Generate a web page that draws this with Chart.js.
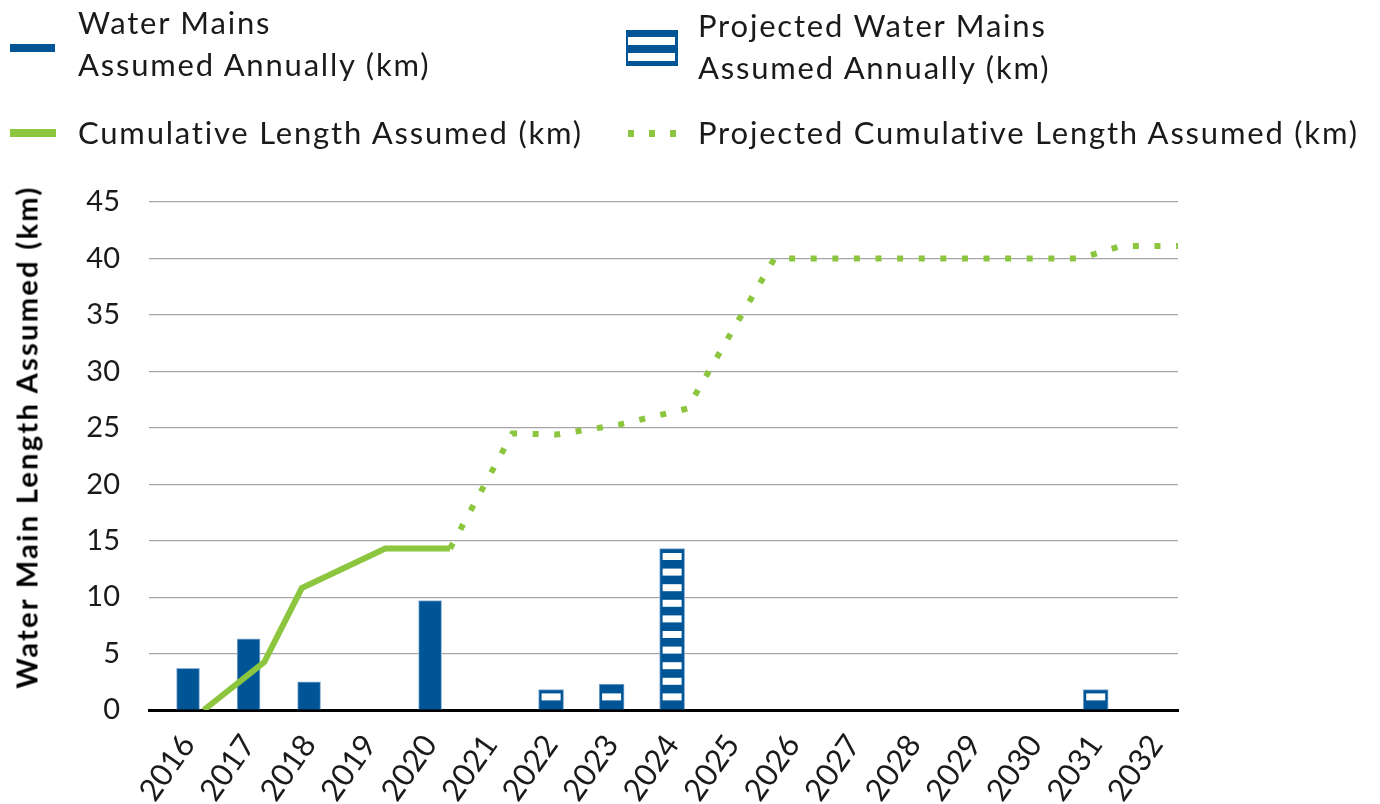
<!DOCTYPE html>
<html>
<head>
<meta charset="utf-8">
<script src="https://cdn.jsdelivr.net/npm/chart.js@4.4.1/dist/chart.umd.min.js"></script>
<style>
  html, body { margin: 0; padding: 0; background: #fff; overflow: hidden; }
  body { width: 1380px; height: 804px; position: relative; font-family: Lato, sans-serif; color: #1a1a1a; }
  #wrap { position: absolute; left: 0; top: 0; width: 1380px; height: 804px; }
  .lg-text { position: absolute; font-size: 31px; line-height: 42px; letter-spacing: 1.8px; white-space: nowrap; }
  .mk { position: absolute; }
  #titulo-y { position: absolute; left: 26px; top: 437px; transform: translate(-50%, -50%) rotate(-90deg);
              font-size: 29px; font-weight: bold; letter-spacing: 2.3px; white-space: nowrap; color: #000; }
</style>
</head>
<body>
<div id="wrap"><canvas id="grafico"></canvas></div>

<!-- legenda -->
<div class="mk" style="left:10px;top:44px;width:45px;height:8px;background:#005596"></div>
<div class="lg-text" style="left:78px;top:1px">Water Mains<br>Assumed Annually (km)</div>

<div class="mk" style="left:626px;top:30px;width:52px;height:36px;background:#005596"></div>
<div class="mk" style="left:628px;top:37px;width:47px;height:8px;background:#fff"></div>
<div class="mk" style="left:628px;top:53px;width:47px;height:8px;background:#fff"></div>
<div class="lg-text" style="left:698px;top:4px">Projected Water Mains<br>Assumed Annually (km)</div>

<div class="mk" style="left:10px;top:129px;width:46px;height:8px;background:#8cc63f"></div>
<div class="lg-text" style="left:78px;top:111px">Cumulative Length Assumed (km)</div>

<div class="mk" style="left:628px;top:130px;width:6px;height:7px;background:#8cc63f"></div>
<div class="mk" style="left:649px;top:130px;width:6px;height:7px;background:#8cc63f"></div>
<div class="mk" style="left:670px;top:130px;width:6px;height:7px;background:#8cc63f"></div>
<div class="lg-text" style="left:698px;top:111px">Projected Cumulative Length Assumed (km)</div>

<div id="titulo-y">Water Main Length Assumed (km)</div>

<script>
// dados do grafico
const years = ['2016', '2017', '2018', '2019', '2020', '2021', '2022', '2023', '2024',
               '2025', '2026', '2027', '2028', '2029', '2030', '2031', '2032'];
const annualKm    = [3.7, 6.3, 2.5, null, 9.7, null, null, null, null,
                     null, null, null, null, null, null, null, null];
const projectedKm = [null, null, null, null, null, null, 1.8, 2.3, 14.3,
                     null, null, null, null, null, null, 1.8, null];

// linha acumulada (posicoes, em anos)
const cumulativeYear = [2016.26, 2017.26, 2017.88, 2019.26, 2020.33];
const cumulativeKm   = [0, 4.25, 10.8, 14.3, 14.3];
const projCumYear = [2020.33, 2021.36, 2022.10, 2023.14, 2024.25, 2025.69, 2030.74, 2031.42, 2032.36];
const projCumKm   = [14.3, 24.5, 24.4, 25.3, 26.7, 40, 40, 41.1, 41.1];

const yTicks = [0, 5, 10, 15, 20, 25, 30, 35, 40, 45];

const azul = '#005596';
const verde = '#8cc63f';

function pontos(xs, ys) {
  return xs.map((x, i) => ({ x: x, y: ys[i] }));
}

// listras brancas das barras projetadas
const listras = {
  id: 'listras',
  afterDatasetDraw(chart, args) {
    if (args.index !== 1) return;
    const ctx = chart.ctx;
    ctx.save();
    ctx.fillStyle = '#ffffff';
    args.meta.data.forEach((bar) => {
      const p = bar.getProps(['x', 'y', 'base', 'width'], true);
      if (p.y == null || isNaN(p.y)) return;
      for (let b = p.base - 9; b - 7 > p.y + 2; b -= 15.6) {
        ctx.fillRect(p.x - p.width / 2 + 3, b - 7, p.width - 6, 7);
      }
    });
    ctx.restore();
  }
};

const fonte = 'Lato';

const graficoTubos = new Chart(document.getElementById('grafico'), {
  type: 'bar',
  data: {
    datasets: [
      {
        label: 'Water Mains Assumed Annually (km)',
        data: pontos(years.map(Number), annualKm),
        backgroundColor: azul,
        borderColor: '#8fb3d6',
        borderWidth: 1,
        barThickness: 23,
        grouped: false,
        order: 2
      },
      {
        label: 'Projected Water Mains Assumed Annually (km)',
        data: pontos(years.map(Number), projectedKm),
        backgroundColor: azul,
        borderColor: '#7fa8d1',
        borderWidth: 1,
        barThickness: 25,
        grouped: false,
        order: 2
      },
      {
        type: 'line',
        label: 'Cumulative Length Assumed (km)',
        data: pontos(cumulativeYear, cumulativeKm),
        borderColor: verde,
        borderWidth: 6,
        pointRadius: 0,
        tension: 0,
        order: 0
      },
      {
        type: 'line',
        label: 'Projected Cumulative Length Assumed (km)',
        data: pontos(projCumYear, projCumKm),
        borderColor: verde,
        borderWidth: 6,
        borderDash: [6, 15.6],
        borderCapStyle: 'butt',
        pointRadius: 0,
        tension: 0,
        order: 0
      }
    ]
  },
  options: {
    responsive: true,
    maintainAspectRatio: false,
    animation: false,
    layout: { padding: { top: 202, right: 202, left: 0, bottom: 0 } },
    plugins: {
      legend: { display: false },
      tooltip: { enabled: false }
    },
    scales: {
      x: {
        type: 'linear',
        offset: false,
        min: 2015.355,
        max: 2032.36,
        grid: { display: false, offset: false },
        border: { display: true, color: '#000', width: 3 },
        afterFit: (scale) => { scale.height = 94; },
        afterBuildTicks: (scale) => { scale.ticks = years.map(y => ({ value: Number(y) })); },
        ticks: {
          autoSkip: false,
          minRotation: 55,
          maxRotation: 55,
          padding: 10,
          color: '#1a1a1a',
          font: { family: fonte, size: 31 },
          callback: (v) => years[years.indexOf(String(v))]
        }
      },
      y: {
        min: 0,
        max: 45,
        afterFit: (scale) => { scale.width = 149; },
        afterBuildTicks: (scale) => { scale.ticks = yTicks.map(v => ({ value: v })); },
        grid: { color: '#a6a6a6', lineWidth: 1.2, drawTicks: false },
        border: { display: false },
        ticks: {
          padding: 29,
          color: '#1a1a1a',
          font: { family: fonte, size: 29 }
        }
      }
    }
  },
  plugins: [listras]
});
</script>
</body>
</html>
